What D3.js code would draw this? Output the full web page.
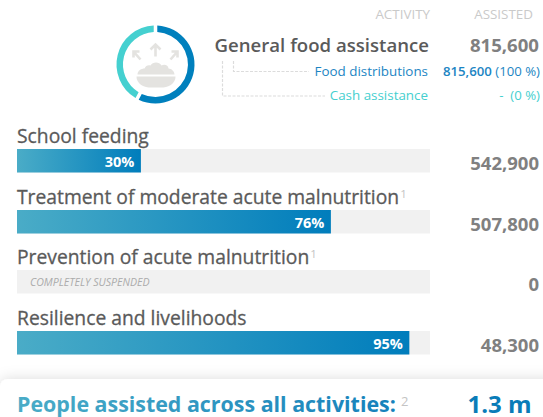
<!DOCTYPE html>
<html><head><meta charset="utf-8">
<script src="https://cdn.jsdelivr.net/npm/d3@7/dist/d3.min.js"></script>
<style>html,body{margin:0;padding:0;background:#fff}svg{display:block;font-family:"Open Sans",sans-serif}</style>
</head><body><svg id="c" width="543" height="417"></svg>
<script>
const activities=["School feeding","Treatment of moderate acute malnutrition","Prevention of acute malnutrition","Resilience and livelihoods"];
const superscripts=["","1","1",""];
const percents=[30,76,0,95];
const assisted=["542,900","507,800","0","48,300"];
const suspendedNote="COMPLETELY SUSPENDED";
const ringValues=[58,42];
const ringColors=["#0080bd","#45d0d0"];
const subLabels=["Food distributions","Cash assistance"];
const subValues=["815,600","-"];
const subPercents=["(100 %)","(0 %)"];
const subColors=["#1c85c3","#45cfcf"];

const svg=d3.select("#c");
const defs=svg.append("defs");
const grad=defs.append("linearGradient").attr("id","barGrad");
grad.append("stop").attr("offset","0").attr("stop-color","#4aacc7");
grad.append("stop").attr("offset","1").attr("stop-color","#007dbc");
const tg=defs.append("linearGradient").attr("id","textGrad").attr("gradientUnits","userSpaceOnUse").attr("x1",17).attr("x2",400).attr("y1",0).attr("y2",0);
tg.append("stop").attr("offset","0").attr("stop-color","#4aacc7");
tg.append("stop").attr("offset","1").attr("stop-color","#1580bb");
const sh=defs.append("filter").attr("id","shadow").attr("x","-5%").attr("y","-60%").attr("width","110%").attr("height","220%");
sh.append("feDropShadow").attr("dx",0).attr("dy",0).attr("stdDeviation",7).attr("flood-color","#000").attr("flood-opacity",.14);

function txt(x,y,s,size,fill,opt={}){
  return svg.append("text").attr("x",x).attr("y",y).text(s).attr("font-size",size).attr("fill",fill)
    .attr("text-anchor",opt.anchor||"start").attr("font-weight",opt.weight||400)
    .attr("font-style",opt.style||null);
}
// headers
txt(430,19,"ACTIVITY",13.4,"#cacaca",{anchor:"end"});
txt(533,19,"ASSISTED",13.4,"#cacaca",{anchor:"end"});
// ring
const ring=svg.append("g").attr("transform","translate(155.5,64.5)");
const pie=d3.pie().sort(null).padAngle(0.07);
const arc=d3.arc().innerRadius(32.5).outerRadius(39);
ring.selectAll("path").data(pie(ringValues)).join("path").attr("d",arc).attr("fill",(d,i)=>ringColors[i]);
// icon
const ic=ring.append("g").attr("fill","#e4e3e0");
ic.append("path").attr("d","M-18,10 C-18,6 -14,4 -11,4 C-10,1 -7,0 -5,1 C-3,-3 4,-3 6,1 C9,-1 13,1 13,4 C16,4 19,7 19,10 Z");
ic.append("path").attr("d","M-19,12 H20 C20,18 15,22 8,23 H-7 C-14,22 -19,18 -19,12 Z");
const arrows=ring.append("g").attr("stroke","#e4e3e0").attr("stroke-width",2.6).attr("fill","none");
arrows.append("path").attr("d","M0,-8 V-20 M-5,-15 L0,-20 L5,-15");
arrows.append("path").attr("d","M-15,-5 L-22,-13 M-22,-7 L-22,-13 L-16,-13");
arrows.append("path").attr("d","M15,-5 L22,-13 M22,-7 L22,-13 L16,-13");
// main row
txt(429,52,"General food assistance",18.6,"#5a5a5a",{anchor:"end",weight:600});
txt(539,52,"815,600",18.6,"#808080",{anchor:"end",weight:700});
// sublabels
const leaders=[[233.5,61,233.5,71.5,309,71.5],[222.5,61,222.5,96,325,96]];
const lineGen=d3.line();
leaders.forEach(p=>svg.append("path").attr("d",lineGen([[p[0],p[1]],[p[2],p[3]],[p[4],p[5]]])).attr("fill","none").attr("stroke","#dcdcdc").attr("stroke-width",1.2).attr("stroke-dasharray","3 1.5"));
[76,100].forEach((y,i)=>{
  txt(428,y,subLabels[i],13.4,subColors[i],{anchor:"end"});
});
const r1=svg.append("text").attr("x",540).attr("y",76).attr("text-anchor","end").attr("font-size",13.2).attr("fill",subColors[0]);
r1.append("tspan").text(subValues[0]).attr("font-weight",600);
r1.append("tspan").text(" "+subPercents[0]);
const r2=svg.append("text").attr("x",540).attr("y",100).attr("text-anchor","end").attr("font-size",13.2).attr("fill",subColors[1]).style("white-space","pre");
r2.append("tspan").text(subValues[1]+"  ");
r2.append("tspan").text(subPercents[1]);

// bars
const x=d3.scaleLinear().domain([0,100]).range([17,430]);
const barTops=[149,210,270,331];
const barH=23.5;
activities.forEach((a,i)=>{
  const top=barTops[i];
  const t=txt(17,top-6.5,a,19.3,"#5a5a5a",{weight:400}).attr("stroke","#5a5a5a").attr("stroke-width",0.3);
  if(superscripts[i]) t.append("tspan").text(superscripts[i]).attr("font-size",11.5).attr("dy",-6).attr("dx",1).attr("fill","#c4c4c4").attr("stroke","none").attr("font-weight",400);
  svg.append("rect").attr("x",x(0)).attr("y",top).attr("width",x(100)-x(0)).attr("height",barH).attr("fill","#f1f1f1");
  if(percents[i]>0){
    svg.append("rect").attr("x",x(0)).attr("y",top).attr("width",x(percents[i])-x(0)).attr("height",barH).attr("fill","url(#barGrad)");
    txt(x(percents[i])-6.5,top+17.5,percents[i]+"%",14.5,"#fff",{anchor:"end",weight:700});
  } else {
    txt(30,top+16,suspendedNote,10.6,"#ababab",{style:"italic"});
  }
  txt(539,top+20.5,assisted[i],18.5,"#808080",{anchor:"end",weight:700});
});
// footer
svg.append("rect").attr("x",0).attr("y",379).attr("width",570).attr("height",70).attr("rx",8).attr("fill","#fff").attr("filter","url(#shadow)");
txt(17,412,"People assisted across all activities:",21.4,"url(#textGrad)",{weight:700});
txt(401,406,"2",13,"#c4c4c4");
txt(531.5,413,"1.3 m",24,"#0a7cb8",{anchor:"end",weight:700});
</script></body></html>
